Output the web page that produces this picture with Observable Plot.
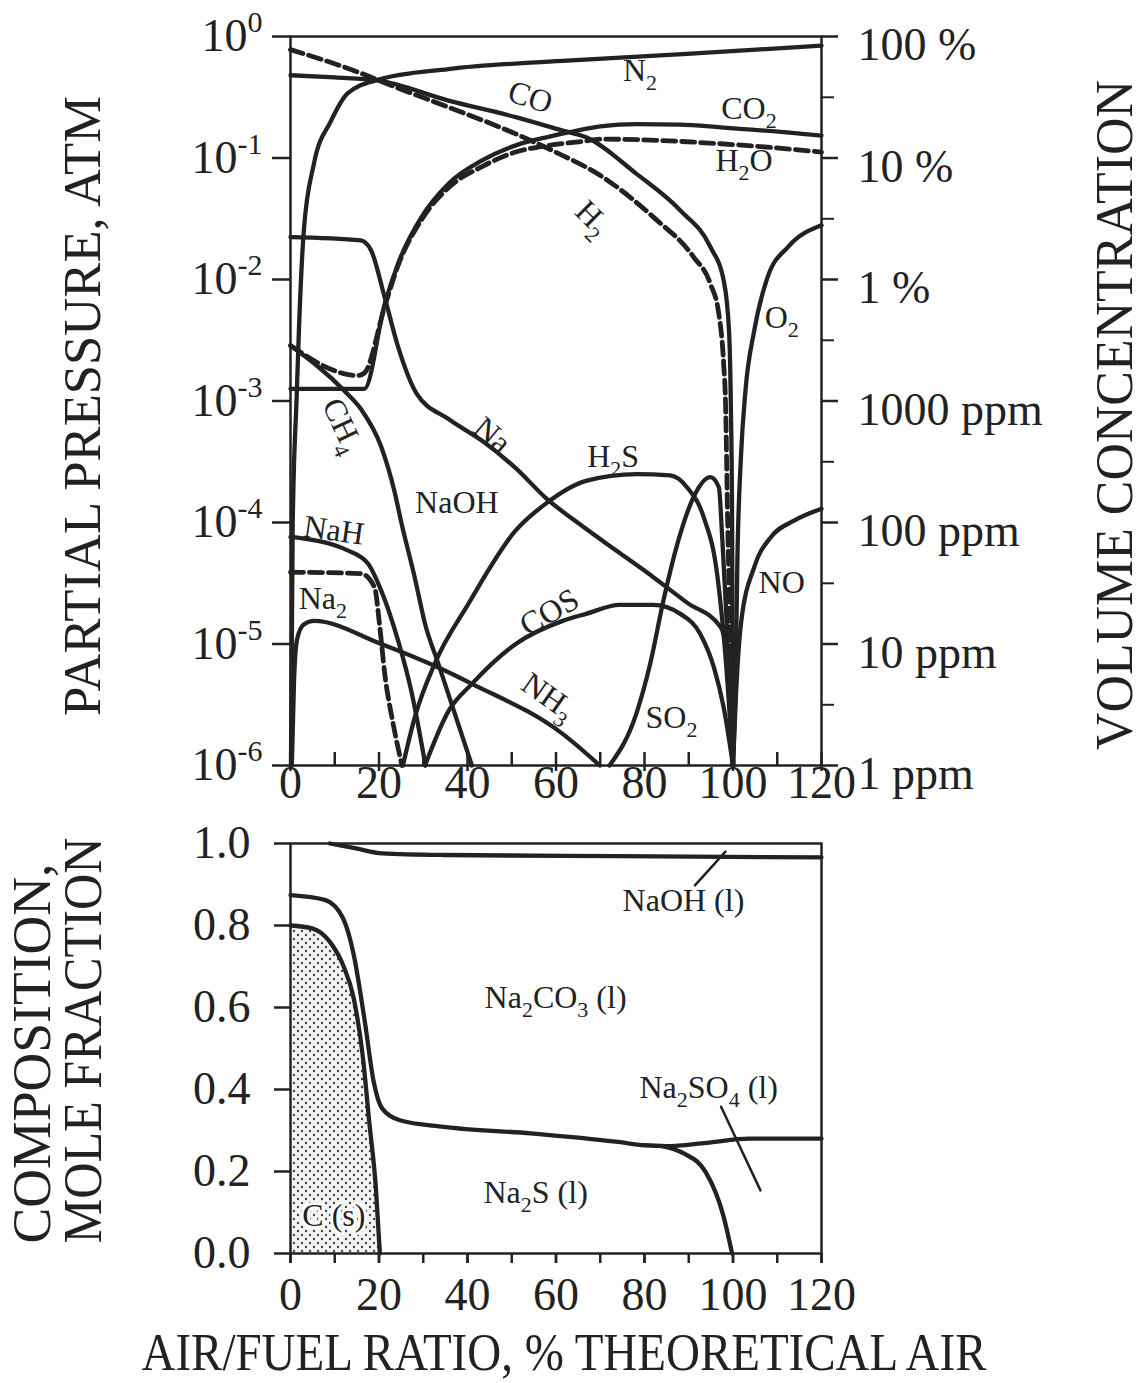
<!DOCTYPE html>
<html><head><meta charset="utf-8">
<script src="https://cdn.jsdelivr.net/npm/d3@7"></script>
<script src="https://cdn.jsdelivr.net/npm/@observablehq/plot@0.6"></script>
<style>
body{margin:0;background:#fff;}
#wrap{position:relative;width:1143px;height:1383px;overflow:hidden;background:#fff;}
#top,#bot{position:absolute;left:0;}
#top{top:0px;} #bot{top:805px;}
svg text{font-family:"Liberation Serif","Times New Roman",serif;}
</style></head>
<body><div id="wrap"><div id="top"></div><div id="bot"></div></div>
<script>
// ---------- ticks ----------
const xMajor = [0, 20, 40, 60, 80, 100, 120];
const xAll = [0, 10, 20, 30, 40, 50, 60, 70, 80, 90, 100, 110, 120];
const decades = [1e-6, 1e-5, 1e-4, 1e-3, 1e-2, 1e-1, 1];
const leftTickLabels = ["10^-6", "10^-5", "10^-4", "10^-3", "10^-2", "10^-1", "10^0"];
const rightTickLabels = ["1 ppm", "10 ppm", "100 ppm", "1000 ppm", "1 %", "10 %", "100 %"];
const halfDecades = [3.16e-6, 3.16e-5, 3.16e-4, 3.16e-3, 3.16e-2, 0.316];
const fracTicks = [0, 0.2, 0.4, 0.6, 0.8, 1.0];

// ---------- top panel: partial pressure [x % theoretical air, atm] ----------
const N2 = [[0.1,1e-6],[0.5,1e-4],[1.4,1.1e-3],[1.9,3.8e-3],[3.0,2.5e-2],[5.3,9.0e-2],[9.1,0.20],[12.9,0.34],[19.7,0.44],[35.7,0.54],[61.5,0.63],[89.6,0.72],[120,0.84]];
const CO = [[0,0.48],[10,0.46],[19.7,0.435],[35.7,0.297],[50.9,0.217],[61.5,0.168],[66.8,0.148],[78.2,0.074],[88.1,0.037],[94.9,0.0185],[97.9,0.0098],[99.1,0.0038],[99.5,1e-3],[99.8,1e-4],[100,1e-6]];
const H2 = [[0,0.78],[15.2,0.51],[22.8,0.395],[35.7,0.262],[50.9,0.158],[59.2,0.115],[70.6,0.0695],[82,0.0326],[91.1,0.0153],[94.9,0.0092],[96.8,0.0052],[97.9,0.002],[98.3,1e-3],[98.8,1e-4],[99.4,1e-5],[100,1e-6]];
const CO2 = [[0,1.26e-3],[16.7,1.26e-3],[21.3,6.3e-3],[24.3,0.0135],[29.6,0.0326],[35.7,0.0614],[43.3,0.0955],[50.9,0.127],[58.5,0.15],[63,0.163],[70,0.182],[78.2,0.19],[88,0.188],[97.2,0.179],[120,0.153]];
const H2O = [[0,2.86e-3],[15.2,1.62e-3],[16.7,1.7e-3],[21.3,6.0e-3],[24.3,0.013],[29.6,0.031],[35.7,0.057],[43.3,0.085],[50.9,0.112],[58.5,0.127],[66,0.137],[70.6,0.143],[97.2,0.131],[120,0.112]];
const Na = [[0,0.0223],[15.9,0.021],[18.2,0.0174],[21.3,7.1e-3],[24.3,2.8e-3],[28.5,1.15e-3],[35.7,7.1e-4],[43.3,4.7e-4],[50.9,2.8e-4],[57.8,1.58e-4],[66,9.3e-5],[74.4,5.6e-5],[82,3.55e-5],[89.6,2.19e-5],[97.2,1.38e-5],[99.3,5e-6],[100,1e-6]];
const CH4 = [[0,2.86e-3],[12.1,1.22e-3],[16,8.5e-4],[20.5,4.2e-4],[23.5,1.8e-4],[25.1,9.8e-5],[28.1,3.5e-5],[30.4,1.47e-5],[33.4,6.9e-6],[41,1e-6]];
const NaOH = [[0,1.67e-4],[20.5,1.07e-4],[61.5,9.4e-5],[100,8.3e-5],[120,7.8e-5]];
const NaH = [[0,7.6e-5],[12.9,5.9e-5],[17.5,4.6e-5],[20.5,2.75e-5],[24.3,1.07e-5],[27.3,4.1e-6],[30.5,1e-6]];
const Na2 = [[0,3.9e-5],[15.9,3.8e-5],[19,2.93e-5],[20.1,1.47e-5],[21.3,5.7e-6],[23.2,2.2e-6],[25.2,1e-6]];
const NH3 = [[0.3,1e-6],[0.8,5e-6],[1.5,1.1e-5],[3,1.45e-5],[5.3,1.55e-5],[20.5,1e-5],[33.4,6.4e-6],[41,4.7e-6],[61.5,1.82e-6],[69.9,1e-6]];
const H2S = [[25.4,1e-6],[28.1,2.5e-6],[32.6,6.9e-6],[40.2,2.14e-5],[50.9,8.6e-5],[57.7,1.43e-4],[66.8,2.2e-4],[78.2,2.5e-4],[85.8,2.44e-4],[89.6,1.95e-4],[93.4,1.1e-4],[96.4,3.8e-5],[98.3,7.9e-6],[100,1e-6]];
const COS = [[30.4,1e-6],[35.7,2.8e-6],[41,4.7e-6],[50.9,1e-5],[61.5,1.55e-5],[66.8,1.77e-5],[74.4,2.1e-5],[82,2.1e-5],[88.1,1.77e-5],[92.6,1.21e-5],[95.7,6.4e-6],[97.9,3e-6],[100,1e-6]];
const SO2 = [[72.1,1e-6],[78.2,2.7e-6],[81.3,6.9e-6],[84.3,2.3e-5],[88.1,8.1e-5],[91.1,1.62e-4],[94.9,2.36e-4],[96.8,1.95e-4],[97.6,7.1e-5],[98.6,1.47e-5],[100,1e-6]];
const O2 = [[100,1e-6],[100.6,5.6e-6],[101,5.1e-5],[101.8,3.5e-4],[102.8,1.2e-3],[104.8,3.8e-3],[107.8,0.0104],[112.4,0.0185],[120,0.028]];
const NO = [[100,1e-6],[100.7,4e-6],[101.8,1.47e-5],[104.8,4.3e-5],[108.6,7.6e-5],[113.9,1.04e-4],[120,1.3e-4]];

const solidSeries = [N2, CO, CO2, Na, CH4, NaH, NH3, H2S, COS, SO2, O2, NO];
const dashedSeries = [H2, H2O, Na2];

const topLabelText = ["CO","N2","CO2","H2O","H2","O2","CH4","Na","H2S","NaOH","NaH","Na2","COS","NH3","SO2","NO"];
const topLabelX = [54.2,79,103.6,102.5,68.3,111,11.8,45.6,72.9,37.6,9.8,7.3,58.5,58.3,86.1,111];
const topLabelY = [0.316,0.525,0.255,0.095,0.032,0.0048,6.3e-4,5.2e-4,3.5e-4,1.45e-4,8.6e-5,2.36e-5,1.82e-5,3.7e-6,2.45e-6,3.2e-5];
const topLabelRot = [18,0,0,0,45,0,65,40,0,0,8,0,-30,35,0,0];

// ---------- bottom panel: mole fraction ----------
const naohLine = [[8.9,1.0],[14.8,0.988],[20.7,0.976],[34.6,0.972],[74,0.969],[120,0.966]];
const carbonateLine = [[0,0.874],[7.9,0.862],[11.9,0.817],[14.3,0.728],[16.8,0.565],[18.8,0.419],[20.7,0.354],[24.7,0.325],[34.6,0.309],[54.3,0.293],[74.1,0.272],[80,0.264],[85,0.262],[94,0.27],[103.7,0.28],[120,0.28]];
const sulfideLine = [[84,0.262],[88.9,0.244],[93.8,0.199],[97.8,0.093],[99.8,0]];
const carbonLine = [[0,0.80],[4.9,0.793],[8.9,0.76],[11.9,0.703],[14.3,0.622],[16.3,0.484],[17.8,0.321],[19.3,0.159],[20.2,0]];
const naohLeader = [[91.4,0.898],[98.3,0.98]];
const sulfateLeader = [[97.3,0.358],[106.2,0.154]];

const botLabelText = ["NaOH (l)","Na2CO3 (l)","Na2SO4 (l)","Na2S (l)"];
const botLabelX = [88.8,59.9,94.5,55.4];
const botLabelY = [0.861,0.624,0.405,0.149];
const carbonLabel = ["C (s)"];
const carbonLabelX = [9.8];
const carbonLabelY = [0.093];

const INK = "#222";
const FONT = "Liberation Serif";
const px = d => d[0], py = d => d[1];

// ---------- top plot ----------
const topMarks = [
  Plot.frame({stroke: INK, strokeWidth: 2.5}),
  Plot.axisY(decades, {anchor: "left", tickSize: 18, tickPadding: 10, strokeWidth: 2.5, fontSize: 46,
    tickFormat: (d) => leftTickLabels[decades.indexOf(d)], label: null}),
  Plot.axisY(decades, {anchor: "right", tickSize: 16, strokeWidth: 2.5, text: null, label: null}),
  Plot.axisY(halfDecades, {anchor: "right", tickSize: 12, strokeWidth: 2, text: null, label: null}),
  Plot.text(decades, {x: () => 120, y: d => d, text: (d, i) => rightTickLabels[i], dx: 36, dy: 9,
    textAnchor: "start", fontSize: 46, fill: INK}),
  Plot.axisX(xMajor, {anchor: "bottom", tickSize: 6, tickPadding: -6, strokeWidth: 2.5, fontSize: 46, label: null}),
  Plot.tickX(xAll, {x: d => d, insetTop: 716, stroke: INK, strokeWidth: 2.5}),
  ...solidSeries.map(s => Plot.line(s, {x: px, y: py, stroke: INK, strokeWidth: 4.3, curve: "monotone-x"})),
  ...dashedSeries.map(s => Plot.line(s, {x: px, y: py, stroke: INK, strokeWidth: 4.8, strokeDasharray: "13,6", curve: "monotone-x"})),
  Plot.text(topLabelText, {x: (d, i) => topLabelX[i], y: (d, i) => topLabelY[i], rotate: (d, i) => topLabelRot[i],
    text: d => d, fontSize: 32, fill: INK}),
  Plot.text(["PARTIAL PRESSURE, ATM"], {frameAnchor: "left", dx: -207, dy: 5, rotate: -90,
    textAnchor: "middle", lineAnchor: "middle", fontSize: 52, fill: INK}),
  Plot.text(["VOLUME CONCENTRATION"], {frameAnchor: "right", dx: 294, dy: 14, rotate: -90,
    textAnchor: "middle", lineAnchor: "middle", fontSize: 52, fill: INK})
];

const topPlot = Plot.plot({
  width: 1143, height: 805,
  marginLeft: 290, marginRight: 322, marginTop: 36, marginBottom: 40,
  x: {domain: [0, 120]},
  y: {type: "log", domain: [1e-6, 1]},
  style: {fontFamily: FONT, fontSize: "46px", color: INK, background: "transparent", overflow: "visible"},
  marks: topMarks
});
document.getElementById("top").appendChild(topPlot);

// ---------- bottom plot ----------
const botPlot = Plot.plot({
  width: 1143, height: 578,
  marginLeft: 290, marginRight: 322, marginTop: 38, marginBottom: 130,
  x: {domain: [0, 120]},
  y: {domain: [0, 1]},
  style: {fontFamily: FONT, fontSize: "46px", color: INK, background: "transparent", overflow: "visible"},
  marks: [
    Plot.areaY(carbonLine, {x: px, y: py, fill: "url(#cdots)", curve: "monotone-x"}),
    Plot.frame({stroke: INK, strokeWidth: 2.5}),
    Plot.axisY(fracTicks, {anchor: "left", tickSize: 16, tickPadding: 24, strokeWidth: 2.5, fontSize: 46,
      tickFormat: d => d.toFixed(1), label: null}),
    Plot.axisX(xMajor, {anchor: "bottom", tickSize: 10, tickPadding: 14, strokeWidth: 2.5, fontSize: 46, label: null}),
    Plot.axisX(xAll, {anchor: "bottom", tickSize: 10, strokeWidth: 2.5, text: null, label: null}),
    Plot.line(naohLine, {x: px, y: py, stroke: INK, strokeWidth: 4.3, curve: "monotone-x"}),
    Plot.line(carbonateLine, {x: px, y: py, stroke: INK, strokeWidth: 4.3, curve: "monotone-x"}),
    Plot.line(sulfideLine, {x: px, y: py, stroke: INK, strokeWidth: 4.3, curve: "monotone-x"}),
    Plot.line(carbonLine, {x: px, y: py, stroke: INK, strokeWidth: 4.3, curve: "monotone-x"}),
    Plot.line(naohLeader, {x: px, y: py, stroke: INK, strokeWidth: 2.5}),
    Plot.line(sulfateLeader, {x: px, y: py, stroke: INK, strokeWidth: 2.5}),
    Plot.text(botLabelText, {x: (d, i) => botLabelX[i], y: (d, i) => botLabelY[i], text: d => d, fontSize: 32, fill: INK}),
    Plot.text(carbonLabel, {x: (d, i) => carbonLabelX[i], y: (d, i) => carbonLabelY[i], text: d => d, fontSize: 32,
      fill: INK, stroke: "white", strokeWidth: 6}),
    Plot.text(["COMPOSITION,"], {frameAnchor: "bottom-left", dx: -258, dy: -10, rotate: -90,
      textAnchor: "start", lineAnchor: "middle", fontSize: 54, fill: INK}),
    Plot.text(["MOLE FRACTION"], {frameAnchor: "bottom-left", dx: -207, dy: -10, rotate: -90,
      textAnchor: "start", lineAnchor: "middle", fontSize: 54, fill: INK}),
    Plot.text(["AIR/FUEL RATIO, % THEORETICAL AIR"], {frameAnchor: "bottom", dx: 8, dy: 100,
      textAnchor: "middle", lineAnchor: "middle", fontSize: 52, fill: INK})
  ]
});
document.getElementById("bot").appendChild(botPlot);

// stipple pattern for C(s)
const defs = d3.select(botPlot).insert("defs", ":first-child");
const pat = defs.append("pattern").attr("id", "cdots").attr("patternUnits", "userSpaceOnUse")
  .attr("width", 8).attr("height", 8);
pat.append("rect").attr("width", 8).attr("height", 8).attr("fill", "#f4f4f4");
pat.append("circle").attr("cx", 2).attr("cy", 2).attr("r", 1.2).attr("fill", "#444");
pat.append("circle").attr("cx", 6).attr("cy", 6).attr("r", 1.2).attr("fill", "#444");

// ---------- text post-processing (superscripts / subscripts / fitted titles) ----------
function supers(svg) {
  d3.select(svg).selectAll("text").each(function() {
    const m = /^10\^(-?\d+)$/.exec(this.textContent);
    if (!m) return;
    const el = d3.select(this);
    el.text("10");
    el.append("tspan").attr("dy", -19).attr("font-size", 30).text(m[1]);
  });
}
function subs(svg, shift, size) {
  d3.select(svg).selectAll("text").each(function() {
    const t = this.textContent;
    if (!/[A-Za-z]\d/.test(t)) return;
    const segs = [];
    for (let k = 0; k < t.length; k++) {
      const c = t[k];
      const isSub = /\d/.test(c) && k > 0 && /[A-Za-z]/.test(t[k - 1]);
      if (segs.length && segs[segs.length - 1].sub === isSub) segs[segs.length - 1].s += c;
      else segs.push({s: c, sub: isSub});
    }
    const el = d3.select(this);
    el.text(null);
    let prevSub = false;
    segs.forEach(g => {
      const ts = el.append("tspan").text(g.s);
      if (g.sub) ts.attr("dy", shift).attr("font-size", size);
      else if (prevSub) ts.attr("dy", -shift);
      prevSub = g.sub;
    });
  });
}
function fit(svg, str, len) {
  d3.select(svg).selectAll("text").filter(function() { return this.textContent === str; })
    .attr("textLength", len).attr("lengthAdjust", "spacingAndGlyphs");
}
supers(topPlot);
subs(topPlot, 9, 22);
subs(botPlot, 9, 22);
fit(topPlot, "PARTIAL PRESSURE, ATM", 620);
fit(topPlot, "VOLUME CONCENTRATION", 670);
fit(botPlot, "COMPOSITION,", 380);
fit(botPlot, "MOLE FRACTION", 406);
fit(botPlot, "AIR/FUEL RATIO, % THEORETICAL AIR", 845);
</script>
</body></html>
